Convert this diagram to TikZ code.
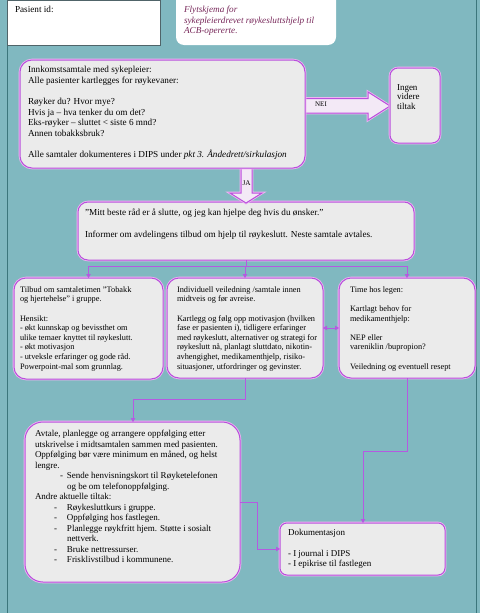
\documentclass[tikz,border=0pt]{standalone}
\usepackage{fontspec}
\setmainfont{Liberation Serif}
\usetikzlibrary{arrows.meta}
\definecolor{bgteal}{RGB}{128,184,192}
\definecolor{frameteal}{RGB}{60,118,124}
\definecolor{boxfill}{RGB}{235,235,235}
\definecolor{boxline}{RGB}{185,80,220}
\definecolor{halo}{RGB}{238,180,242}
\definecolor{connc}{RGB}{180,90,225}
\definecolor{arrowfill}{RGB}{243,233,246}
\definecolor{titlec}{RGB}{120,40,90}
\definecolor{pidline}{RGB}{80,100,105}
\newcommand{\bitem}[1]{\makebox[32pt][l]{\hspace*{#1}-}}
\begin{document}
\begin{tikzpicture}[x=1pt,y=-1pt,
  box/.style={draw=boxline, line width=1pt, fill=boxfill, preaction={draw=halo, line width=2.6pt}, anchor=north west, inner sep=0pt, outer sep=0pt},
  whitebox/.style={fill=white, anchor=north west, inner sep=0pt, outer sep=0pt},
  txt/.style={anchor=north west, inner sep=0pt, outer sep=0pt, align=left},
  big/.style={font=\fontsize{9.2}{10.7}\selectfont},
  small/.style={font=\fontsize{8.3}{9.6}\selectfont},
  conn/.style={draw=connc, line width=0.9pt},
  arr/.style={conn, -{Triangle[length=4pt,width=4.5pt]}},
  darr/.style={conn, {Triangle[length=4pt,width=4.5pt]}-{Triangle[length=4pt,width=4.5pt]}},
  blockarrow/.style={draw=boxline, line width=1pt, fill=arrowfill, preaction={draw=halo, line width=2.6pt}}
]
\useasboundingbox (0,0) rectangle (480,613);
\fill[bgteal] (0,0) rectangle (480,613);
\draw[frameteal, line width=1pt] (7,0) -- (7,613);
\draw[frameteal, line width=1pt] (476,0) -- (476,613);

% header boxes
\node[whitebox, draw=pidline, line width=0.8pt, minimum width=153pt, minimum height=45pt] (pid) at (7,0) {};
\node[txt, big] (pidt) at (15,6) {Pasient id:};
\node[whitebox, rounded corners=8pt, minimum width=160pt, minimum height=55pt] (title) at (176,-10) {};
\node[txt, font=\fontsize{9.2}{10.7}\selectfont\itshape, text=titlec] (titlet) at (184,6)
  {Flytskjema for\\sykepleierdrevet røykesluttshjelp til\\ACB-opererte.};

% box 2 first (JA arrow tip lies over it)
\node[box, rounded corners=10pt, minimum width=336pt, minimum height=58pt] (box2) at (78,202) {};

% block arrows
\draw[blockarrow] (298,98.5) -- (368,98.5) -- (368,92) -- (390,106) -- (368,120) -- (368,113) -- (298,113) -- cycle;
\node[font=\fontsize{7}{8}\selectfont, inner sep=0pt] (nei) at (321,104) {NEI};
\draw[blockarrow] (241,160) -- (241,193) -- (230,193) -- (246,203) -- (262,193) -- (252,193) -- (252,160) -- cycle;
\node[font=\fontsize{7.2}{8}\selectfont, inner sep=0pt] (ja) at (246.5,183) {JA};

% box 1
\node[box, rounded corners=12pt, minimum width=285pt, minimum height=108pt] (box1) at (20,60) {};
\node[txt, big] (t1) at (28,66) {Innkomstsamtale med sykepleier:\\
Alle pasienter kartlegges for røykevaner:\\[10.7pt]
Røyker du? Hvor mye?\\
Hvis ja – hva tenker du om det?\\
Eks-røyker – sluttet < siste 6 mnd?\\
Annen tobakksbruk?\\[10.7pt]
Alle samtaler dokumenteres i DIPS under \textit{pkt 3. Åndedrett/sirkulasjon}};

% Ingen videre tiltak
\node[box, rounded corners=8pt, minimum width=50pt, minimum height=75pt] (ingen) at (390,68) {};
\node[txt, font=\fontsize{9}{9.8}\selectfont] (tingen) at (397,84.2) {Ingen\\videre\\tiltak};

\node[txt, big] (t2) at (85,209) {"Mitt beste råd er å slutte, og jeg kan hjelpe deg hvis du ønsker."\\[10.7pt]
Informer om avdelingens tilbud om hjelp til røykeslutt. Neste samtale avtales.};

% three boxes
\node[box, rounded corners=12pt, minimum width=149pt, minimum height=101pt] (box3a) at (14,278) {};
\node[txt, small] (t3a) at (20,286.6) {Tilbud om samtaletimen "Tobakk\\
og hjertehelse" i gruppe.\\[9.6pt]
Hensikt:\\
- økt kunnskap og bevissthet om\\
ulike temaer knyttet til røykeslutt.\\
- økt motivasjon\\
- utveksle erfaringer og gode råd.\\
Powerpoint-mal som grunnlag.};

\node[box, rounded corners=12pt, minimum width=156pt, minimum height=100pt] (box3b) at (167,278) {};
\node[txt, small] (t3b) at (177,286.6) {Individuell veiledning /samtale innen\\
midtveis og før avreise.\\[9.6pt]
Kartlegg og følg opp motivasjon (hvilken\\
fase er pasienten i), tidligere erfaringer\\
med røykeslutt, alternativer og strategi for\\
røykeslutt nå, planlagt sluttdato, nikotin-\\
avhengighet, medikamenthjelp, risiko-\\
situasjoner, utfordringer og gevinster.};

\node[box, rounded corners=12pt, minimum width=136pt, minimum height=100pt] (box3c) at (339,278) {};
\node[txt, small] (t3c) at (350,286.6) {Time hos legen:\\[9.6pt]
Kartlagt behov for\\
medikamenthjelp:\\[9.6pt]
NEP eller\\
vareniklin /bupropion?\\[9.6pt]
Veiledning og eventuell resept};

% box 4
\node[box, rounded corners=18pt, minimum width=215pt, minimum height=160pt] (box4) at (25,422) {};
\node[txt, font=\fontsize{9}{10.5}\selectfont] (t4) at (35,430.3) {Avtale, planlegge og arrangere oppfølging etter\\
utskrivelse i midtsamtalen sammen med pasienten.\\
Oppfølging bør være minimum en måned, og helst\\
lengre.\\
\bitem{25pt}Sende henvisningskort til Røyketelefonen\\
\hspace*{32pt}og be om telefonoppfølging.\\
Andre aktuelle tiltak:\\
\bitem{19pt}Røykesluttkurs i gruppe.\\
\bitem{19pt}Oppfølging hos fastlegen.\\
\bitem{19pt}Planlegge røykfritt hjem. Støtte i sosialt\\
\hspace*{32pt}nettverk.\\
\bitem{19pt}Bruke nettressurser.\\
\bitem{19pt}Frisklivstilbud i kommunene.};

% box 5
\node[box, rounded corners=7pt, minimum width=165pt, minimum height=52pt] (box5) at (280,523) {};
\node[txt, font=\fontsize{9}{10.3}\selectfont] (t5) at (288,529.2) {Dokumentasjon\\[10.3pt]
- I journal i DIPS\\
- I epikrise til fastlegen};

% connectors
\coordinate (bus) at (246,266);
\draw[conn] (box2.south) -- (bus);
\draw[conn] (box3a.north |- bus) -- (box3c.north |- bus);
\draw[arr] (box3a.north |- bus) -- (box3a.north);
\draw[arr] (box3b.north |- bus) -- (box3b.north);
\draw[arr] (box3c.north |- bus) -- (box3c.north);
\draw[darr] (box3b.east) -- (box3c.west);
\coordinate (j1) at (133,399);
\draw[arr] (box3b.south) |- (j1) -- (box4.north -| j1);
\coordinate (j2) at (257,502);
\draw[arr] (box4.east |- j2) -- (j2) |- (box5.west);
\coordinate (j3) at (363,451);
\draw[arr] (box3c.south) |- (j3) -- (box5.north -| j3);
\end{tikzpicture}
\end{document}
